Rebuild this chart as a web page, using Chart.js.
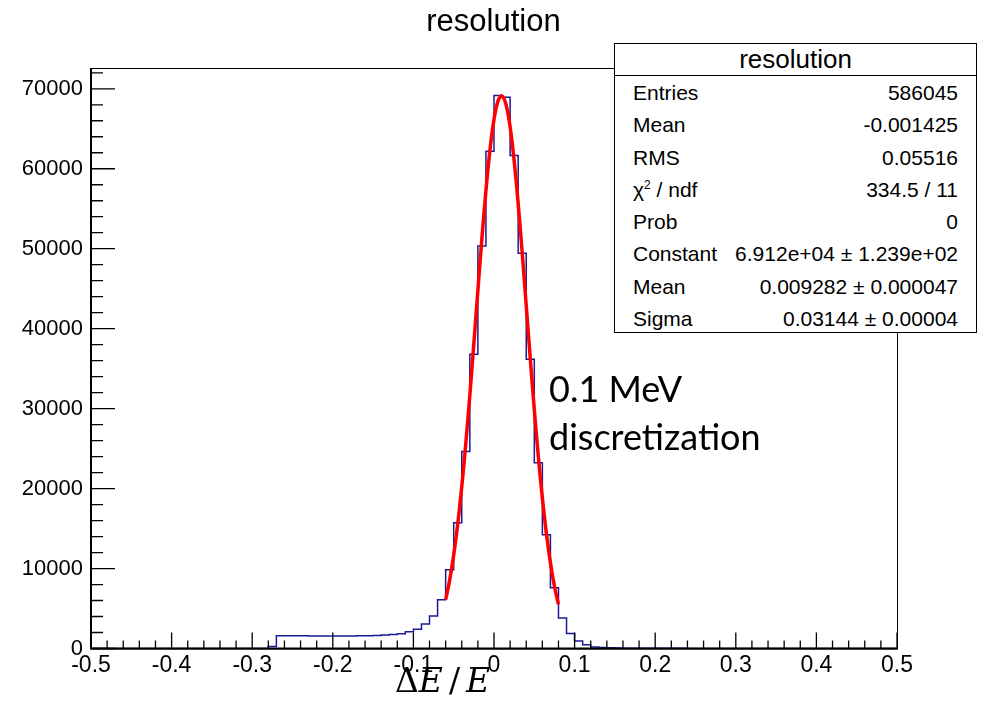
<!DOCTYPE html>
<html>
<head>
<meta charset="utf-8">
<script src="https://cdn.jsdelivr.net/npm/chart.js@4.4.1/dist/chart.umd.min.js"></script>
<style>
body { margin: 0; background: #fff; }
#wrap { position: relative; width: 987px; height: 707px; }
#stats {
    position: absolute; left: 614px; top: 43px; width: 363px; height: 290px;
    box-sizing: border-box; border: 1.5px solid #000; background: #fff;
    font-family: "Liberation Sans", Arial, sans-serif; font-size: 21px; color: #000;
}
#stats .head { height: 31px; line-height: 31px; border-bottom: 1px solid #000; text-align: center; font-size: 26px; }
#stats .row { display: flex; justify-content: space-between; height: 32.3px; line-height: 34px; padding: 0 18px; }
#stats sup { font-size: 12px; line-height: 0; }
#note {
    position: absolute; left: 549px; top: 364px;
    font-family: Lato, "Open Sans", sans-serif; font-size: 36px; line-height: 48px; color: #000;
}
#xtitle {
    position: absolute; left: 395px; top: 665px;
    font-family: "DejaVu Serif", serif; font-size: 33px; line-height: 32px; color: #000;
}
#xtitle i { font-style: italic; }
#xtitle .sl { margin: 0 6px 0 6px; }
</style>
</head>
<body>
<div id="wrap">
<canvas id="myChart" width="987" height="707"></canvas>
<div id="stats">
    <div class="head">resolution</div>
    <div class="row"><span>Entries</span><span>586045</span></div>
    <div class="row"><span>Mean</span><span>-0.001425</span></div>
    <div class="row"><span>RMS</span><span>0.05516</span></div>
    <div class="row"><span>χ<sup>2</sup> / ndf</span><span>334.5 / 11</span></div>
    <div class="row"><span>Prob</span><span>0</span></div>
    <div class="row"><span>Constant</span><span>6.912e+04 ± 1.239e+02</span></div>
    <div class="row"><span>Mean</span><span>0.009282 ± 0.000047</span></div>
    <div class="row"><span>Sigma</span><span>0.03144 ± 0.00004</span></div>
</div>
<div id="note">0.1 MeV<br>discretization</div>
<div id="xtitle">Δ<i>E</i><span class="sl">/</span><i>E</i></div>
</div>
<script>
// histogram: 100 bins of 0.01 from -0.5 to 0.5 (counts)
var binLow = -0.5;
var binWidth = 0.01;
var counts = [
    0, 0, 0, 0, 0, 0, 0, 0, 0, 0,
    0, 0, 0, 0, 0, 0, 0, 0, 0, 0,
    0, 0, 250, 1600, 1600, 1590, 1580, 1570, 1560, 1550,
    1550, 1560, 1570, 1590, 1610, 1640, 1680, 1740, 1850, 2080,
    2420, 3050, 4050, 6090, 9850, 15730, 24650, 36800, 50350, 62200,
    69150, 68950, 61660, 49440, 36170, 23240, 14230, 7600, 3820, 1880,
    940, 480, 200, 130, 90, 60, 45, 35, 30, 25,
    22, 20, 18, 16, 15, 14, 13, 12, 11, 10,
    10, 9, 9, 8, 8, 7, 7, 6, 6, 6,
    5, 5, 5, 4, 4, 4, 3, 3, 3, 3
];

// gaussian fit curve, sampled over the fit range
var fitX = [-0.060, -0.055, -0.050, -0.045, -0.040, -0.035, -0.030, -0.025, -0.020, -0.015,
            -0.010, -0.005, 0.000, 0.005, 0.010, 0.015, 0.020, 0.025, 0.030, 0.035,
            0.040, 0.045, 0.050, 0.055, 0.060, 0.065, 0.070, 0.075, 0.080];
var fitY = [6102, 8548, 11683, 15571, 20233, 25635, 31669, 38145, 44797, 51295,
            57270, 62344, 66173, 68482, 69102, 67987, 65217, 61000, 55631, 49468,
            42888, 36255, 29880, 24013, 18816, 14376, 10709, 7776, 5507];

var xTicks = [-0.5, -0.4, -0.3, -0.2, -0.1, 0, 0.1, 0.2, 0.3, 0.4, 0.5];
var yTicks = [0, 10000, 20000, 30000, 40000, 50000, 60000, 70000];

var histPts = [];
for (var i = 0; i < counts.length; i++) {
    histPts.push({ x: +(binLow + i * binWidth).toFixed(2), y: counts[i] });
}
histPts.push({ x: +(binLow + counts.length * binWidth).toFixed(2), y: counts[counts.length - 1] });

var fitPts = [];
for (var j = 0; j < fitX.length; j++) {
    fitPts.push({ x: fitX[j], y: fitY[j] });
}

// ROOT style frame + inward ticks
var rootAxes = {
    id: 'rootAxes',
    afterDatasetsDraw: function (chart) {
        var ctx = chart.ctx;
        var a = chart.chartArea;
        var sx = chart.scales.x;
        var sy = chart.scales.y;
        ctx.save();
        ctx.strokeStyle = '#000';
        ctx.lineWidth = 1;
        ctx.strokeRect(a.left + 0.5, a.top + 0.5, a.right - a.left, a.bottom - a.top);
        ctx.lineWidth = 2;
        ctx.beginPath();
        ctx.moveTo(a.left, a.top);
        ctx.lineTo(a.left, a.bottom);
        ctx.lineTo(a.right, a.bottom);
        ctx.stroke();
        ctx.lineWidth = 1.3;
        ctx.beginPath();
        for (var k = 0; k <= 50; k++) {
            var px = sx.getPixelForValue(-0.5 + k * 0.02);
            var len = (k % 5 == 0) ? 16 : 8;
            ctx.moveTo(px, a.bottom);
            ctx.lineTo(px, a.bottom - len);
        }
        for (var m = 0; m * 2000 <= sy.max; m++) {
            var py = sy.getPixelForValue(m * 2000);
            var ln = (m % 5 == 0) ? 24 : 12;
            ctx.moveTo(a.left, py);
            ctx.lineTo(a.left + ln, py);
        }
        ctx.stroke();
        ctx.restore();
    }
};

Chart.defaults.font.family = "'Liberation Sans', Arial, sans-serif";
Chart.defaults.color = '#000';

new Chart("myChart", {
    type: "line",
    data: {
        datasets: [{
            data: fitPts,
            borderColor: '#ff0000',
            borderWidth: 3.5,
            pointRadius: 0,
            tension: 0.4,
            order: 0
        }, {
            data: histPts,
            borderColor: '#1a1a96',
            borderWidth: 1.5,
            pointRadius: 0,
            stepped: 'before',
            order: 1
        }]
    },
    options: {
        responsive: false,
        animation: false,
        layout: { padding: 0 },
        plugins: {
            legend: { display: false },
            tooltip: { enabled: false },
            title: {
                display: true,
                text: "resolution",
                font: { size: 31, weight: 'normal' },
                padding: { top: 4, bottom: 26.8 }
            }
        },
        scales: {
            x: {
                type: 'linear',
                min: -0.5,
                max: 0.5,
                grid: { display: false, drawTicks: false },
                border: { display: false },
                afterBuildTicks: function (s) {
                    s.ticks = xTicks.map(function (v) { return { value: v }; });
                },
                afterFit: function (s) { s.height = 707 - 648.5; },
                ticks: {
                    font: { size: 23 },
                    padding: 3,
                    maxRotation: 0,
                    autoSkip: false,
                    callback: function (v) { return String(parseFloat(v.toFixed(2))); }
                }
            },
            y: {
                min: 0,
                max: 72600,
                grid: { display: false, drawTicks: false },
                border: { display: false },
                afterBuildTicks: function (s) {
                    s.ticks = yTicks.map(function (v) { return { value: v }; });
                },
                afterFit: function (s) { s.width = 91; },
                ticks: {
                    font: { size: 22 },
                    padding: 8,
                    autoSkip: false,
                    callback: function (v) { return String(v); }
                }
            },
            yRight: {
                position: 'right',
                min: 0,
                max: 72600,
                grid: { display: false, drawTicks: false },
                border: { display: false },
                ticks: { display: false },
                afterFit: function (s) { s.width = 90; }
            }
        }
    },
    plugins: [rootAxes]
});
</script>
</body>
</html>
